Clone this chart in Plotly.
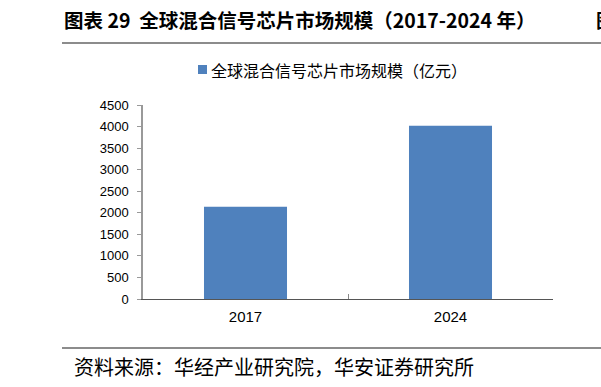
import plotly.graph_objects as go

categories = ["2017", "2024"]
values = [2140, 4020]
series_name = "全球混合信号芯片市场规模（亿元）"
y_ticks = [0, 500, 1000, 1500, 2000, 2500, 3000, 3500, 4000, 4500]

W, H = 601, 387
L, R, T, B = 143, 48, 105, 88
PW, PH = W - L - R, H - T - B

def pxx(x):
    return (x - L) / PW

def pyy(y):
    return 1 + (T - y) / PH

fig = go.Figure()
fig.add_trace(go.Bar(
    x=categories, y=values, name=series_name,
    marker=dict(color="#4F81BD", line=dict(width=0)),
    width=0.405, showlegend=False,
))

fig.update_layout(
    width=W, height=H,
    margin=dict(l=L, r=R, t=T, b=B, pad=0),
    paper_bgcolor="white", plot_bgcolor="white",
    font=dict(family="Liberation Sans, Arial", size=13, color="#000"),
    showlegend=False,
    xaxis=dict(
        showline=True, linecolor="#555", linewidth=1,
        ticks="inside", tickson="boundaries", ticklen=5, tickcolor="#888",
        showgrid=False, tickfont=dict(size=15), ticklabelstandoff=4,
    ),
    yaxis=dict(
        range=[0, 4500], tickvals=y_ticks,
        showline=True, linecolor="#999", linewidth=1.5,
        ticks="outside", ticklen=4, tickcolor="#999",
        showgrid=False, zeroline=False, tickfont=dict(size=13),
        ticklabelstandoff=6,
    ),
)

# legend (manual, to match tight symbol spacing)
fig.add_shape(type="rect", xref="paper", yref="paper",
              x0=pxx(198), x1=pxx(207), y0=pyy(74), y1=pyy(65),
              fillcolor="#4F81BD", line=dict(width=0))
fig.add_annotation(
    xref="paper", yref="paper", x=pxx(209), y=pyy(70),
    text=series_name, showarrow=False, xanchor="left", yanchor="middle",
    font=dict(family="Noto Sans CJK SC", size=16, color="#000"),
)

fig.add_annotation(
    xref="paper", yref="paper", x=pxx(62), y=pyy(19),
    text="<b>图表 29  全球混合信号芯片市场规模（2017-2024 年）</b>",
    showarrow=False, xanchor="left", yanchor="middle",
    font=dict(family="Noto Sans CJK SC", size=19.5, color="#000"),
)

fig.add_annotation(
    xref="paper", yref="paper", x=pxx(594), y=pyy(19),
    text="<b>图</b>", showarrow=False, xanchor="left", yanchor="middle",
    font=dict(family="Noto Sans CJK SC", size=19, color="#000"),
)

fig.add_annotation(
    xref="paper", yref="paper", x=pxx(72), y=pyy(366),
    text="资料来源：华经产业研究院，华安证券研究所",
    showarrow=False, xanchor="left", yanchor="middle",
    font=dict(family="Noto Sans CJK SC", size=20, color="#000"),
)

def hline(y):
    fig.add_shape(type="line", xref="paper", yref="paper",
                  x0=pxx(62), x1=pxx(W), y0=pyy(y), y1=pyy(y),
                  line=dict(color="#666", width=1.5))

hline(43)
hline(348)

fig.write_html("out.html")
